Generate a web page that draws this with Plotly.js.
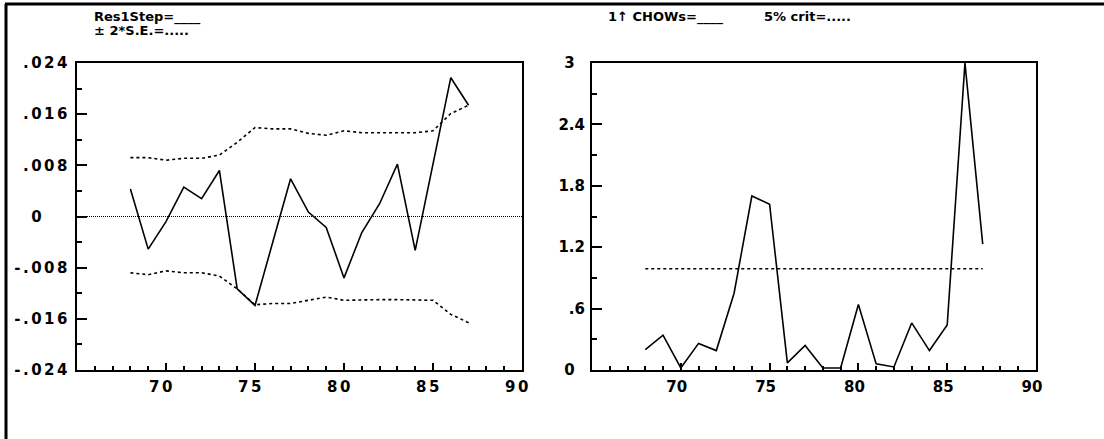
<!DOCTYPE html>
<html>
<head>
<meta charset="utf-8">
<script src="https://cdn.plot.ly/plotly-3.0.1.min.js"></script>
<style>
html,body{margin:0;padding:0;background:#fff;}
#chart{width:1104px;height:439px;}
.xtick text,.ytick text{letter-spacing:2.5px;}
</style>
</head>
<body>
<div id="chart"></div>
<script>
// ---- data ----
const years = [68,69,70,71,72,73,74,75,76,77,78,79,80,81,82,83,84,85,86,87];
const res1Step = [0.0043,-0.0051,-0.0008,0.0046,0.0028,0.0072,-0.0113,-0.0139,-0.0040,0.0059,0.0007,-0.0017,-0.0096,-0.0025,0.0020,0.0082,-0.0053,0.0080,0.0217,0.0174];
const upper2SE = [0.0092,0.0092,0.0088,0.0091,0.0091,0.0096,0.0116,0.0139,0.0137,0.0137,0.0130,0.0127,0.0134,0.0131,0.0131,0.0131,0.0131,0.0134,0.0161,0.0174];
const lower2SE = [-0.0088,-0.0091,-0.0085,-0.0088,-0.0088,-0.0093,-0.0113,-0.0138,-0.0136,-0.0136,-0.0131,-0.0126,-0.0131,-0.0130,-0.0130,-0.0130,-0.0130,-0.0131,-0.0153,-0.0166];
const chow1 = [0.20,0.34,0.02,0.26,0.19,0.75,1.70,1.62,0.07,0.24,0.02,0.02,0.64,0.06,0.03,0.46,0.19,0.44,3.00,1.23];
const crit5 = [0.99,0.99,0.99,0.99,0.99,0.99,0.99,0.99,0.99,0.99,0.99,0.99,0.99,0.99,0.99,0.99,0.99,0.99,0.99,0.99];
const xTickVals = [70,75,80,85,90];
const xTickText = ['70','75','80','85','90'];
const yLeftVals = [-0.024,-0.016,-0.008,0,0.008,0.016,0.024];
const yLeftText = ['-.024','-.016','-.008','0\u2007\u2007','.008','.016','.024'];
const yRightVals = [0,0.6,1.2,1.8,2.4,3];
const yRightText = ['0\u2007','.6','1.2','1.8','2.4','3\u2007'];

const W = 1104, H = 439;
const px = v => v / W;
const py = v => (H - v) / H;

const FONT = {family:'DejaVu Sans, sans-serif', size:15, color:'#000', weight:'bold'};
const TFONT = {family:'DejaVu Sans, sans-serif', size:13, color:'#000', weight:'bold'};

const lineSolid = {color:'#000', width:1.6};
const lineDash = {color:'#000', width:1.6, dash:'3px,3px'};

const traces = [
  {x:years, y:res1Step, xaxis:'x', yaxis:'y', mode:'lines', line:lineSolid, hoverinfo:'skip'},
  {x:years, y:upper2SE, xaxis:'x', yaxis:'y', mode:'lines', line:lineDash, hoverinfo:'skip'},
  {x:years, y:lower2SE, xaxis:'x', yaxis:'y', mode:'lines', line:lineDash, hoverinfo:'skip'},
  {x:years, y:chow1, xaxis:'x2', yaxis:'y2', mode:'lines', line:lineSolid, hoverinfo:'skip'},
  {x:years, y:crit5, xaxis:'x2', yaxis:'y2', mode:'lines', line:lineDash, hoverinfo:'skip'}
];

function xAxis(dom, anchor){
  return {domain:dom, anchor:anchor, range:[65,90], showgrid:false, zeroline:false,
    showline:true, mirror:true, linecolor:'#000', linewidth:2,
    tickmode:'array', tickvals:xTickVals, ticktext:xTickText,
    ticks:'inside', ticklen:7, tickwidth:2, tickcolor:'#000',
    minor:{dtick:1, tick0:65, ticks:'inside', ticklen:4, tickwidth:2, tickcolor:'#000', showgrid:false},
    tickfont:FONT, ticklabelshift:-4, ticklabelstandoff:2, fixedrange:true};
}
function yAxis(dom, anchor, range, vals, text, minorStep){
  return {domain:dom, anchor:anchor, range:range, showgrid:false, zeroline:false,
    showline:true, mirror:true, linecolor:'#000', linewidth:2,
    tickmode:'array', tickvals:vals, ticktext:text,
    ticks:'inside', ticklen:10, tickwidth:2, tickcolor:'#000',
    minor:{dtick:minorStep, tick0:range[0], ticks:'inside', ticklen:5, tickwidth:2, tickcolor:'#000', showgrid:false},
    tickfont:FONT, ticklabelstandoff:2, fixedrange:true};
}

const yDom = [py(370), py(63)];
const layout = {
  width:W, height:H, margin:{l:0,r:0,t:0,b:0},
  paper_bgcolor:'#fff', plot_bgcolor:'#fff', showlegend:false,
  xaxis: xAxis([px(77), px(522)], 'y'),
  yaxis: yAxis(yDom, 'x', [-0.024,0.024], yLeftVals, yLeftText, 0.004),
  xaxis2: xAxis([px(592), px(1036)], 'y2'),
  yaxis2: yAxis(yDom, 'x2', [0,3], yRightVals, yRightText, 0.3),
  shapes:[
    {type:'line', xref:'x', yref:'y', x0:65, x1:90, y0:0, y1:0, line:{color:'#000', width:1.2, dash:'1px,1px'}},
    {type:'line', xref:'paper', yref:'paper', x0:px(6), x1:px(6), y0:0, y1:py(4), line:{color:'#000', width:3}},
    {type:'line', xref:'paper', yref:'paper', x0:px(5), x1:1, y0:py(4), y1:py(4), line:{color:'#000', width:3}}
  ],
  annotations:[
    {xref:'paper', yref:'paper', x:px(92), y:py(17), xanchor:'left', yanchor:'middle', showarrow:false, text:'Res1Step=____', font:TFONT},
    {xref:'paper', yref:'paper', x:px(92), y:py(30), xanchor:'left', yanchor:'middle', showarrow:false, text:'± 2*S.E.=.....', font:TFONT},
    {xref:'paper', yref:'paper', x:px(606), y:py(17), xanchor:'left', yanchor:'middle', showarrow:false, text:'1↑ CHOWs=____', font:TFONT},
    {xref:'paper', yref:'paper', x:px(762), y:py(17), xanchor:'left', yanchor:'middle', showarrow:false, text:'5% crit=.....', font:TFONT}
  ]
};

Plotly.newPlot('chart', traces, layout, {displayModeBar:false, staticPlot:true});
</script>
</body>
</html>
